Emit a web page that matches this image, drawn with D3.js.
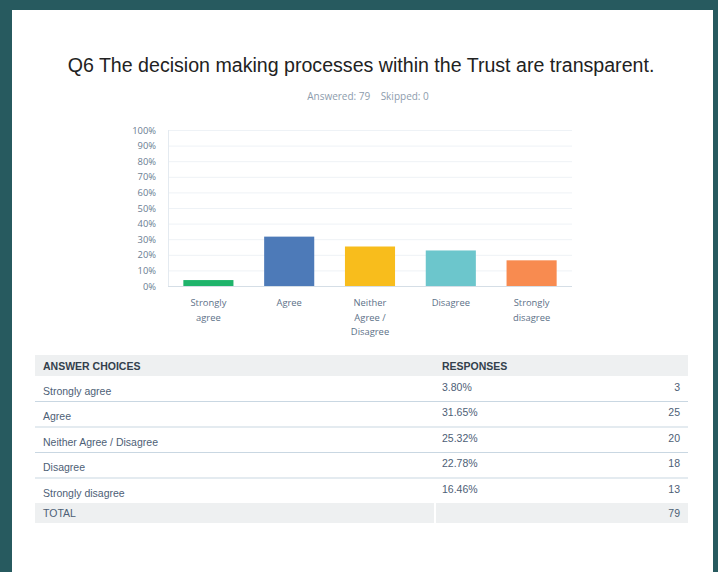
<!DOCTYPE html>
<html>
<head>
<meta charset="utf-8">
<script src="https://cdn.jsdelivr.net/npm/d3@7"></script>
<style>
  body { margin: 0; background: #275a5f; }
  svg { display: block; }
</style>
</head>
<body>
<div id="chart"></div>
<script>
var W = 718, H = 572;

// data
var categories = ["Strongly agree", "Agree", "Neither Agree / Disagree", "Disagree", "Strongly disagree"];
var axisLabels = [["Strongly", "agree"], ["Agree"], ["Neither", "Agree /", "Disagree"], ["Disagree"], ["Strongly", "disagree"]];
var percents = [3.80, 31.65, 25.32, 22.78, 16.46];
var counts = [3, 25, 20, 18, 13];
var colors = ["#1fb46b", "#4d7ab8", "#f8bd1c", "#6cc6cc", "#f88b50"];
var yTicks = [0, 10, 20, 30, 40, 50, 60, 70, 80, 90, 100];
var answered = 79, skipped = 0, total = 79;

var svg = d3.select("#chart")
  .append("svg")
    .attr("width", W)
    .attr("height", H);

// white card
svg.append("rect")
  .attr("x", 12).attr("y", 10)
  .attr("width", 701).attr("height", H - 10)
  .attr("fill", "#fff");

svg.append("text")
  .attr("x", 361).attr("y", 72)
  .attr("text-anchor", "middle")
  .style("font-family", "'Liberation Sans', Arial, sans-serif")
  .style("font-size", "19.6px")
  .attr("fill", "#222")
  .text("Q6 The decision making processes within the Trust are transparent.");

svg.append("text")
  .attr("x", 368).attr("y", 100)
  .attr("text-anchor", "middle")
  .style("font-family", "'Open Sans', sans-serif")
  .style("font-size", "10px")
  .attr("fill", "#8d9cad")
  .attr("xml:space", "preserve")
  .text("Answered: " + answered + "    Skipped: " + skipped);

// bar chart
var plot = {left: 168, right: 572, top: 130, bottom: 286};

var x = d3.scaleBand()
  .domain(categories)
  .range([plot.left, plot.right])
  .paddingInner(0.38)
  .paddingOuter(0.19);

var y = d3.scaleLinear()
  .domain([0, 100])
  .range([plot.bottom, plot.top]);

var g = svg.append("g");

g.selectAll(".grid")
  .data(yTicks)
  .join("line")
    .attr("x1", plot.left).attr("x2", plot.right)
    .attr("y1", function(d) { return y(d) + 0.5; })
    .attr("y2", function(d) { return y(d) + 0.5; })
    .attr("stroke", function(d) { return d === 0 ? "#d5dee6" : "#eef2f6"; })
    .attr("stroke-width", 1);

g.append("line")
  .attr("x1", plot.left + 0.5).attr("x2", plot.left + 0.5)
  .attr("y1", plot.top).attr("y2", plot.bottom)
  .attr("stroke", "#e4eaf0");

var yAxis = g.append("g")
  .attr("transform", "translate(" + (plot.left - 12) + ",0)")
  .call(d3.axisLeft(y).tickValues(yTicks).tickSize(0).tickFormat(function(d) { return d + "%"; }));
yAxis.select(".domain").remove();
yAxis.selectAll("text")
  .attr("x", 0)
  .style("font-family", "'Open Sans', sans-serif")
  .style("font-size", "9.4px")
  .attr("fill", "#6a7d92");

g.selectAll(".bar")
  .data(percents)
  .join("rect")
    .attr("x", function(d, i) { return x(categories[i]); })
    .attr("y", function(d) { return y(d); })
    .attr("width", x.bandwidth())
    .attr("height", function(d) { return y(0) - y(d); })
    .attr("fill", function(d, i) { return colors[i]; });

g.selectAll(".xlab")
  .data(axisLabels)
  .join("text")
    .attr("text-anchor", "middle")
    .attr("x", function(d, i) { return x(categories[i]) + x.bandwidth() / 2; })
    .attr("y", 306)
    .style("font-family", "'Open Sans', sans-serif")
    .style("font-size", "9.4px")
    .attr("fill", "#5d7188")
    .selectAll("tspan")
    .data(function(d) { return d; })
    .join("tspan")
      .attr("x", function() { return this.parentNode.getAttribute("x"); })
      .attr("dy", function(d, j) { return j === 0 ? 0 : 14.5; })
      .text(function(d) { return d; });

// table
var tbl = {left: 35, right: 688, split: 434, header: [355, 376], rowH: 25.5, total: [503, 523]};
var font = "Arial, 'Liberation Sans', sans-serif";

svg.append("rect")
  .attr("x", tbl.left).attr("y", tbl.header[0])
  .attr("width", tbl.right - tbl.left).attr("height", tbl.header[1] - tbl.header[0])
  .attr("fill", "#eef0f1");

svg.append("text")
  .attr("x", 43).attr("y", 370)
  .style("font-family", font).style("font-size", "10.5px").style("font-weight", "bold")
  .attr("fill", "#33404c")
  .text("ANSWER CHOICES");
svg.append("text")
  .attr("x", 442).attr("y", 370)
  .style("font-family", font).style("font-size", "10.5px").style("font-weight", "bold")
  .attr("fill", "#33404c")
  .text("RESPONSES");

var rowTop = function(i) { return tbl.header[1] + i * tbl.rowH; };

svg.selectAll(".sep")
  .data(categories.slice(0, -1))
  .join("line")
    .attr("x1", tbl.left).attr("x2", tbl.right)
    .attr("y1", function(d, i) { return rowTop(i + 1); })
    .attr("y2", function(d, i) { return rowTop(i + 1); })
    .attr("stroke", "#c9d7e2").attr("stroke-width", 1.2);

svg.selectAll(".rlab")
  .data(categories)
  .join("text")
    .attr("x", 43)
    .attr("y", function(d, i) { return rowTop(i) + 18.5; })
    .style("font-family", font).style("font-size", "10.5px")
    .attr("fill", "#4d6076")
    .text(function(d) { return d; });

svg.selectAll(".rpct")
  .data(percents)
  .join("text")
    .attr("x", 442)
    .attr("y", function(d, i) { return rowTop(i) + 14.5; })
    .style("font-family", font).style("font-size", "10.5px")
    .attr("fill", "#4d6076")
    .text(function(d) { return d.toFixed(2) + "%"; });

svg.selectAll(".rcnt")
  .data(counts)
  .join("text")
    .attr("x", 680)
    .attr("text-anchor", "end")
    .attr("y", function(d, i) { return rowTop(i) + 14.5; })
    .style("font-family", font).style("font-size", "10.5px")
    .attr("fill", "#4d6076")
    .text(function(d) { return d; });

svg.append("rect")
  .attr("x", tbl.left).attr("y", tbl.total[0])
  .attr("width", tbl.split - tbl.left).attr("height", tbl.total[1] - tbl.total[0])
  .attr("fill", "#eef0f1");
svg.append("rect")
  .attr("x", tbl.split + 2).attr("y", tbl.total[0])
  .attr("width", tbl.right - tbl.split - 2).attr("height", tbl.total[1] - tbl.total[0])
  .attr("fill", "#eef0f1");

svg.append("text")
  .attr("x", 43).attr("y", 517)
  .style("font-family", font).style("font-size", "10.5px")
  .attr("fill", "#4d6076")
  .text("TOTAL");
svg.append("text")
  .attr("x", 680).attr("y", 517)
  .attr("text-anchor", "end")
  .style("font-family", font).style("font-size", "10.5px")
  .attr("fill", "#4d6076")
  .text(total);
</script>
</body>
</html>
